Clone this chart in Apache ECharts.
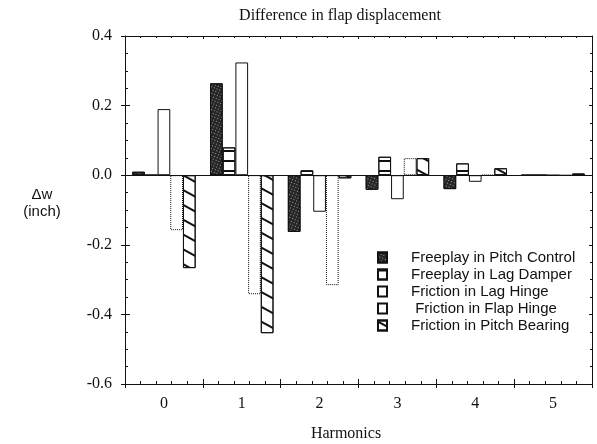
<!DOCTYPE html>
<html>
<head>
<meta charset="utf-8">
<script src="https://cdn.jsdelivr.net/npm/echarts@6/dist/echarts.min.js"></script>
<style>html,body{margin:0;padding:0;background:#fff;}#c{width:597px;height:444px;}</style>
</head>
<body>
<div id="c"></div>
<script>
var harmonics = ['0', '1', '2', '3', '4', '5'];
var seriesNames = ['Freeplay in Pitch Control', 'Freeplay in Lag Damper', 'Friction in Lag Hinge', ' Friction in Flap Hinge', 'Friction in Pitch Bearing'];
var pitchControl = [0.01, 0.264, -0.163, -0.042, -0.04, 0];
var lagDamper = [0, 0.08, 0.014, 0.053, 0.034, 0];
var lagHinge = [0.19, 0.324, -0.105, -0.069, -0.019, 0];
var flapHinge = [-0.158, -0.342, -0.316, 0.049, 0, 0];
var pitchBearing = [-0.267, -0.454, -0.009, 0.049, 0.02, 0.005];
var yTicks = [-0.6, -0.4, -0.2, 0.0, 0.2, 0.4];

var chart = echarts.init(document.getElementById('c'), null, {renderer: 'canvas'});
var serif = 'Liberation Serif';
var sans = 'Liberation Sans';
var black = '#111';

function barSeries(name, data, style) {
  return {
    name: name, type: 'bar', data: data,
    xAxisIndex: 0, yAxisIndex: 0,
    barWidth: 12.7, barGap: '0%',
    itemStyle: style,
    emphasis: {disabled: true},
    animation: false
  };
}

var series = [
  barSeries(seriesNames[0], pitchControl, {
    color: '#262626', borderColor: black, borderWidth: 1,
    decal: {symbol: 'rect', symbolSize: 1, dashArrayX: [1, 2], dashArrayY: [1, 2], color: 'rgba(255,255,255,0.55)', rotation: 0.4}
  }),
  barSeries(seriesNames[1], lagDamper, {
    color: '#fff', borderColor: black, borderWidth: 1,
    decal: {symbol: 'rect', symbolSize: 1, dashArrayX: [1, 0], dashArrayY: [1.3, 8], color: black, rotation: 0}
  }),
  barSeries(seriesNames[2], lagHinge, {
    color: '#fff', borderColor: black, borderWidth: 1
  }),
  barSeries(seriesNames[3], flapHinge, {
    color: '#fff', borderColor: black, borderWidth: 1, borderType: 'dotted'
  }),
  barSeries(seriesNames[4], pitchBearing, {
    color: '#fff', borderColor: black, borderWidth: 1,
    decal: {symbol: 'rect', symbolSize: 1, dashArrayX: [1, 0], dashArrayY: [1.3, 11], color: black, rotation: 0.5}
  })
];
series[0].markLine = {
  silent: true, symbol: 'none', animation: false,
  label: {show: false},
  lineStyle: {color: black, width: 1, type: 'solid'},
  data: [{yAxis: 0}]
};

var option = {
  backgroundColor: '#fff',
  animation: false,
  grid: {left: 125, right: 5, top: 36, bottom: 60, containLabel: false},
  graphic: [
    {type: 'text', x: 340, y: 16, silent: true, style: {text: 'Difference in flap displacement', font: '16px "' + serif + '"', fill: black, textAlign: 'center', textVerticalAlign: 'middle'}},
    {type: 'text', x: 346, y: 434, silent: true, style: {text: 'Harmonics', font: '16px "' + serif + '"', fill: black, textAlign: 'center', textVerticalAlign: 'middle'}},
    {type: 'text', x: 42, y: 195, silent: true, style: {text: 'Δw', font: '15px "' + sans + '"', fill: black, textAlign: 'center', textVerticalAlign: 'middle'}},
    {type: 'text', x: 42, y: 212, silent: true, style: {text: '(inch)', font: '15px "' + sans + '"', fill: black, textAlign: 'center', textVerticalAlign: 'middle'}}
  ],
  legend: {
    orient: 'vertical', left: 372, top: 245,
    itemWidth: 9, itemHeight: 10, itemGap: 2,
    icon: 'rect',
    selectedMode: false,
    data: seriesNames,
    textStyle: {fontFamily: sans, fontSize: 15, color: black, padding: [0, 0, 0, 19]}
  },
  xAxis: [
    {
      type: 'category', data: harmonics, position: 'bottom', boundaryGap: true,
      axisLine: {show: true, onZero: false, lineStyle: {color: black, width: 1}},
      axisTick: {show: true, inside: false, length: 4, interval: 0, lineStyle: {color: black}},
      axisLabel: {show: true, margin: 12, fontFamily: serif, fontSize: 16, color: black},
      splitLine: {show: false}
    },
    {
      type: 'value', min: -0.5, max: 5.5, interval: 1, position: 'bottom',
      axisLine: {show: false, onZero: false},
      axisTick: {show: true, inside: true, length: 5, lineStyle: {color: black}},
      minorTick: {show: true, splitNumber: 5, length: 3, lineStyle: {color: black}},
      axisLabel: {show: false}, splitLine: {show: false}
    },
    {
      type: 'value', min: -0.5, max: 5.5, interval: 1, position: 'top',
      axisLine: {show: true, onZero: false, lineStyle: {color: black, width: 1}},
      axisTick: {show: true, inside: true, length: 3, lineStyle: {color: black}},
      minorTick: {show: true, splitNumber: 5, length: 2, lineStyle: {color: black}},
      axisLabel: {show: false}, splitLine: {show: false}
    }
  ],
  yAxis: [
    {
      type: 'value', min: -0.6, max: 0.4, interval: 0.2, position: 'left',
      axisLine: {show: true, onZero: false, lineStyle: {color: black, width: 1}},
      axisTick: {show: true, inside: false, length: 4, lineStyle: {color: black}},
      axisLabel: {show: true, margin: 13, fontFamily: serif, fontSize: 16, color: black,
        formatter: function (v) { return Math.abs(v) < 1e-9 ? '0.0' : v.toFixed(1); }},
      splitLine: {show: false}
    },
    {
      type: 'value', min: -0.6, max: 0.4, interval: 0.2, position: 'left',
      axisLine: {show: false, onZero: false},
      axisTick: {show: true, inside: true, length: 5, lineStyle: {color: black}},
      minorTick: {show: true, splitNumber: 4, length: 3, lineStyle: {color: black}},
      axisLabel: {show: false}, splitLine: {show: false}
    },
    {
      type: 'value', min: -0.6, max: 0.4, interval: 0.2, position: 'right',
      axisLine: {show: true, onZero: false, lineStyle: {color: black, width: 1}},
      axisTick: {show: true, inside: true, length: 3, lineStyle: {color: black}},
      minorTick: {show: true, splitNumber: 4, length: 2, lineStyle: {color: black}},
      axisLabel: {show: false}, splitLine: {show: false}
    }
  ],
  series: series
};
chart.setOption(option);
</script>
</body>
</html>
